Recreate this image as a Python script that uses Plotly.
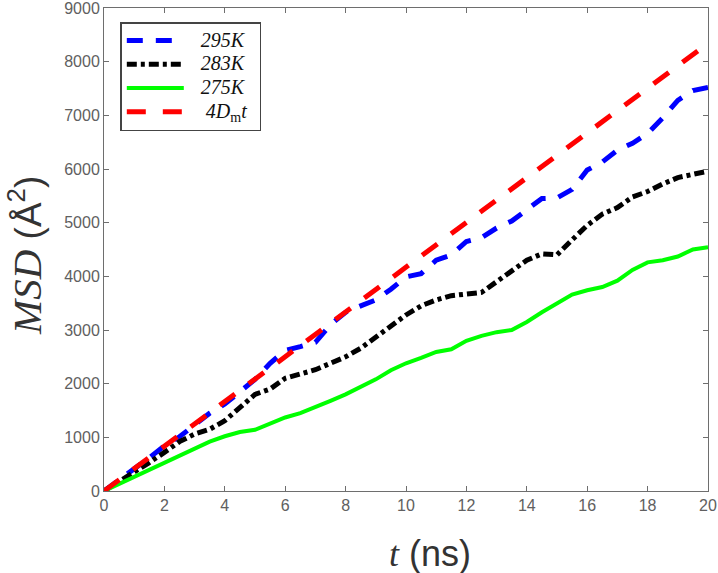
import plotly.graph_objects as go

t = [0, 0.5, 1, 1.5, 2, 2.5, 3, 3.5, 4, 4.5, 5, 5.5, 6, 6.5, 7, 7.5, 8, 8.5, 9, 9.5,
     10, 10.5, 11, 11.5, 12, 12.5, 13, 13.5, 14, 14.5, 15, 15.5, 16, 16.5, 17, 17.5,
     18, 18.5, 19, 19.5, 20]

msd_295 = [0, 200, 420, 620, 840, 1010, 1230, 1450, 1620, 1850, 2080, 2380, 2620, 2690,
           2770, 3100, 3330, 3450, 3560, 3760, 3990, 4050, 4300, 4400, 4650, 4720, 4900,
           5030, 5250, 5450, 5460, 5620, 5980, 6130, 6350, 6480, 6660, 6950, 7280, 7460, 7520]

msd_283 = [0, 170, 340, 530, 720, 920, 1060, 1150, 1310, 1560, 1800, 1900, 2100, 2180,
           2260, 2380, 2500, 2660, 2860, 3060, 3280, 3450, 3560, 3640, 3660, 3700, 3900,
           4100, 4300, 4420, 4400, 4680, 4950, 5160, 5280, 5480, 5580, 5720, 5840, 5900, 5960]

msd_275 = [0, 130, 260, 390, 530, 660, 800, 920, 1020, 1100, 1140, 1260, 1370, 1450,
           1560, 1680, 1800, 1930, 2080, 2250, 2380, 2480, 2590, 2640, 2800, 2890, 2960,
           3000, 3150, 3330, 3500, 3660, 3740, 3800, 3920, 4120, 4260, 4300, 4370, 4500, 4540]

t_fit = [0, 20]
msd_fit = [0, 8340]

x_ticks = [0, 2, 4, 6, 8, 10, 12, 14, 16, 18, 20]
y_ticks = [0, 1000, 2000, 3000, 4000, 5000, 6000, 7000, 8000, 9000]

pad = "&nbsp;&nbsp;&nbsp;"


def lab(s):
    return pad + "<span style=\"font-size:20px\">" + s + "</span>&nbsp;&nbsp;"


fig = go.Figure()
fig.add_trace(go.Scatter(x=t, y=msd_295, mode="lines", name=lab("<i>295K</i>"),
                         line=dict(color="#0000ff", width=5, dash="16px,13px")))
fig.add_trace(go.Scatter(x=t, y=msd_283, mode="lines", name=lab("<i>283K</i>"),
                         line=dict(color="#000000", width=5, dash="10px,4px,4px,4px")))
fig.add_trace(go.Scatter(x=t, y=msd_275, mode="lines", name=lab("<i>275K</i>"),
                         line=dict(color="#00ff00", width=4)))
fig.add_trace(go.Scatter(x=t_fit, y=msd_fit, mode="lines",
                         name=lab("&nbsp;<i>4D</i><sub>m</sub><i>t</i>"),
                         line=dict(color="#ff0000", width=5, dash="19px,17px")))

axis_common = dict(
    showline=True, linecolor="#6e6e6e", linewidth=1, mirror="ticks",
    ticks="inside", ticklen=5, tickcolor="#6e6e6e",
    showgrid=False, zeroline=False, automargin=False, ticklabeloverflow="allow",
    tickfont=dict(family="Liberation Sans, Arial", size=16, color="#606060"),
)

fig.update_xaxes(range=[0, 20], tickvals=x_ticks, ticktext=[str(v) for v in x_ticks],
                 **axis_common)
fig.update_yaxes(range=[0, 9000], tickvals=y_ticks, ticktext=[str(v) for v in y_ticks],
                 **axis_common)

fig.add_annotation(
    text="<span style=\"font-family:'Liberation Serif'\"><i>t</i></span> (ns)",
    xref="paper", yref="paper", x=0.54, y=-0.13, xanchor="center", yanchor="middle",
    showarrow=False, font=dict(family="Liberation Sans, Arial", size=36, color="#333333"))
fig.add_annotation(
    text="<span style=\"font-family:'Liberation Serif'; font-size:41px\"><i>MSD</i></span> (Å<sup>2</sup>)",
    xref="paper", yref="paper", x=-0.128, y=0.488, xanchor="center", yanchor="middle",
    textangle=-90, showarrow=False,
    font=dict(family="Liberation Sans, Arial", size=37, color="#333333"))

fig.update_layout(
    width=718, height=573,
    margin=dict(l=104, r=10, t=8, b=82),
    paper_bgcolor="white", plot_bgcolor="white",
    showlegend=True,
    legend=dict(x=0.027, y=0.971, xanchor="left", yanchor="top",
                bgcolor="white", bordercolor="#444444", borderwidth=1.5,
                font=dict(family="Liberation Serif, Times New Roman", size=16, color="#111111"),
                itemwidth=57, tracegroupgap=0),
)

fig.write_html("out.html")
